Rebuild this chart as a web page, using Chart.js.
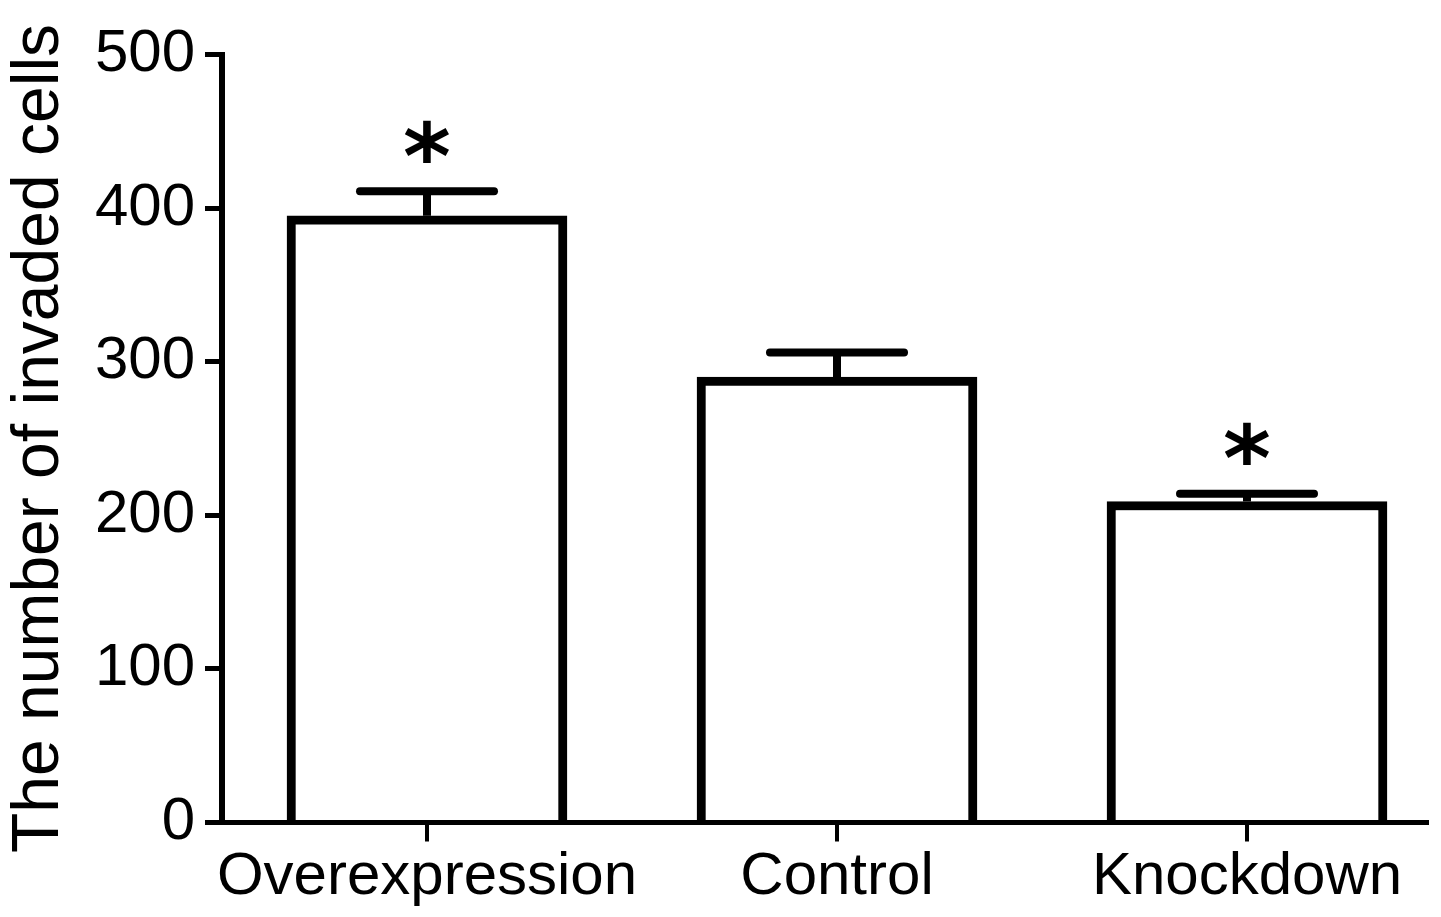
<!DOCTYPE html>
<html>
<head>
<meta charset="utf-8">
<script src="https://cdn.jsdelivr.net/npm/chart.js@4"></script>
<style>
  html, body { margin: 0; padding: 0; background: #fff; }
  #wrap { width: 1441px; height: 917px; }
</style>
</head>
<body>
<div id="wrap"><canvas id="invChart" width="1441" height="917"></canvas></div>
<script>
// data
var groups = ["Overexpression", "Control", "Knockdown"];
var means = [395, 290, 209];
var sems = [16, 16, 5];
var marks = ["*", "", "*"];
var yTicks = [0, 100, 200, 300, 400, 500];

var FONT = "'Liberation Sans', Arial, sans-serif";

// error bars + significance stars, drawn through the scales
var errorPlugin = {
  id: "errorBars",
  afterDatasetsDraw: function(chart) {
    var ctx = chart.ctx;
    var xs = chart.scales.x;
    var ys = chart.scales.y;
    ctx.save();
    ctx.strokeStyle = "#000";
    ctx.fillStyle = "#000";
    for (var i = 0; i < means.length; i++) {
      var cx = xs.getPixelForValue(i);
      var yMean = ys.getPixelForValue(means[i]);
      var yTop = ys.getPixelForValue(means[i] + sems[i]);
      // stem
      ctx.lineWidth = 8;
      ctx.lineCap = "butt";
      ctx.beginPath();
      ctx.moveTo(cx, yMean);
      ctx.lineTo(cx, yTop);
      ctx.stroke();
      // cap
      ctx.lineCap = "round";
      ctx.beginPath();
      ctx.moveTo(cx - 67, yTop);
      ctx.lineTo(cx + 67, yTop);
      ctx.stroke();
      // star
      if (marks[i]) {
        ctx.font = "bold 100px 'DejaVu Sans'";
        var m = ctx.measureText(marks[i]);
        var h = m.actualBoundingBoxAscent + m.actualBoundingBoxDescent;
        var size = 100 * 43 / h;
        ctx.font = "bold " + size + "px 'DejaVu Sans'";
        m = ctx.measureText(marks[i]);
        var centerY = yTop - 50;
        ctx.textAlign = "center";
        ctx.textBaseline = "alphabetic";
        ctx.fillText(marks[i], cx, centerY + (m.actualBoundingBoxAscent - m.actualBoundingBoxDescent) / 2);
      }
    }
    ctx.restore();
  }
};

var chart = new Chart(document.getElementById("invChart"), {
  type: "bar",
  data: {
    datasets: [
      {
        data: means.map(function(v, i) { return { x: i, y: v }; }),
        backgroundColor: "#fff",
        borderColor: "#000",
        borderWidth: 9,
        barThickness: 280
      }
    ]
  },
  options: {
    responsive: false,
    animation: false,
    devicePixelRatio: 1,
    layout: { padding: { top: 54.5, right: 14, left: 0, bottom: 0 } },
    plugins: {
      legend: { display: false },
      tooltip: { enabled: false }
    },
    scales: {
      x: {
        type: "linear",
        offset: false,
        bounds: "data",
        min: -0.5,
        max: 2.439,
        afterBuildTicks: function(scale) {
          scale.ticks = groups.map(function(g, i) { return { value: i }; });
        },
        afterFit: function(scale) { scale.height = 94.5; },
        ticks: {
          color: "#000",
          padding: 0,
          maxRotation: 0,
          minRotation: 0,
          autoSkip: false,
          font: { family: FONT, size: 60 },
          callback: function(v) { return groups[v]; }
        },
        grid: {
          offset: false,
          drawOnChartArea: false,
          color: "#000",
          lineWidth: 4,
          tickLength: 19
        },
        border: { color: "#000", width: 5 }
      },
      y: {
        min: 0,
        max: 500,
        afterBuildTicks: function(scale) {
          scale.ticks = yTicks.map(function(v) { return { value: v }; });
        },
        afterFit: function(scale) { scale.width = 222; },
        ticks: {
          color: "#000",
          padding: 10,
          font: { family: FONT, size: 60 }
        },
        grid: {
          drawOnChartArea: false,
          color: "#000",
          lineWidth: 5,
          tickLength: 17
        },
        border: { color: "#000", width: 6 },
        title: {
          display: true,
          text: "The number of invaded cells",
          color: "#000",
          padding: 0,
          font: { family: FONT, size: 66 }
        }
      }
    }
  },
  plugins: [errorPlugin]
});
</script>
</body>
</html>
